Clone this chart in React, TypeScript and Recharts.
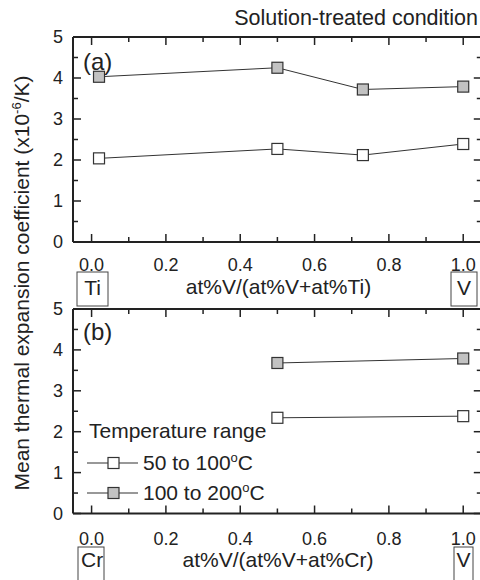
import { LineChart, Line, XAxis, YAxis, Legend } from 'recharts';

// composition fraction on the x axis, CTE (x10^-6/K) on the y axis
const tiFrac = [0.02, 0.5, 0.73, 1.0];
const tiLow = [2.04, 2.27, 2.12, 2.39];
const tiHigh = [4.03, 4.25, 3.72, 3.79];

const crFrac = [0.5, 1.0];
const crLow = [2.34, 2.38];
const crHigh = [3.68, 3.79];

const xTicks = [0, 0.1, 0.2, 0.3, 0.4, 0.5, 0.6, 0.7, 0.8, 0.9, 1.0];
const yTicks = [0, 0.5, 1, 1.5, 2, 2.5, 3, 3.5, 4, 4.5, 5];

const seriesOrder = ['low', 'high'];
const seriesNames = { low: '50 to 100°C', high: '100 to 200°C' };
const seriesFill: Record<string, string> = { low: '#ffffff', high: '#c2c2c2' };

const FONT = '"Liberation Sans", Arial, Helvetica, sans-serif';
const INK = '#222';

const tiRows = tiFrac.map((x, i) => ({ x, low: tiLow[i], high: tiHigh[i] }));
const crRows = crFrac.map((x, i) => ({ x, low: crLow[i], high: crHigh[i] }));

const tickLen = (major: boolean) => (major ? 8 : 5);

const makeBottomTick = (gap: number) => (props: any) => {
  const { x, y, payload } = props;
  const v = payload.value as number;
  const major = Math.round(v * 10) % 2 === 0;
  return (
    <g>
      <line x1={x} x2={x} y1={y} y2={y - tickLen(major)} stroke={INK} strokeWidth={1.5} />
      {major && (
        <text x={x} y={y + gap} dy="0.35em" textAnchor="middle" fontSize={18} fontFamily={FONT} fill={INK}>
          {v.toFixed(1)}
        </text>
      )}
    </g>
  );
};

const TopTick = (props: any) => {
  const { x, y, payload } = props;
  const major = Math.round(payload.value * 10) % 2 === 0;
  return <line x1={x} x2={x} y1={y} y2={y + tickLen(major)} stroke={INK} strokeWidth={1.5} />;
};

const LeftTick = (props: any) => {
  const { x, y, payload } = props;
  const v = payload.value as number;
  const major = Number.isInteger(v);
  return (
    <g>
      <line x1={x} x2={x + tickLen(major)} y1={y} y2={y} stroke={INK} strokeWidth={1.5} />
      {major && (
        <text x={x - 10} y={y} dy="0.35em" textAnchor="end" fontSize={18} fontFamily={FONT} fill={INK}>
          {v}
        </text>
      )}
    </g>
  );
};

const RightTick = (props: any) => {
  const { x, y, payload } = props;
  const major = Number.isInteger(payload.value);
  return <line x1={x} x2={x - tickLen(major)} y1={y} y2={y} stroke={INK} strokeWidth={1.5} />;
};

const squareDot = (fill: string) => (p: any) => (
  <rect
    key={`sq-${p.index}`}
    x={p.cx - 5.5}
    y={p.cy - 5.5}
    width={11}
    height={11}
    fill={fill}
    stroke="#333"
    strokeWidth={1.2}
  />
);

const Degree = ({ label }: { label: string }) => {
  const [head] = label.split('°');
  return (
    <>
      {head}
      <tspan dy={-8} fontSize={13}>o</tspan>
      <tspan dy={8}>C</tspan>
    </>
  );
};

const TemperatureLegend = ({ payload }: any) => {
  const items = [...(payload || [])].sort(
    (a: any, b: any) => seriesOrder.indexOf(a.dataKey) - seriesOrder.indexOf(b.dataKey)
  );
  return (
    <svg width={220} height={100} style={{ overflow: 'visible' }}>
      <text x={9} y={28} fontSize={21} fontFamily={FONT} fill={INK}>Temperature range</text>
      {items.map((entry: any, i: number) => {
        const cy = 53 + i * 30;
        return (
          <g key={entry.dataKey}>
            <line x1={7} x2={58} y1={cy} y2={cy} stroke="#333" strokeWidth={1.2} />
            <rect x={28} y={cy - 5.5} width={11} height={11} fill={seriesFill[entry.dataKey]} stroke="#333" strokeWidth={1.2} />
            <text x={63} y={cy + 7} fontSize={21} fontFamily={FONT} fill={INK}>
              <Degree label={entry.value} />
            </text>
          </g>
        );
      })}
    </svg>
  );
};

interface PanelProps {
  rows: { x: number; low: number; high: number }[];
  top: number;
  bottom: number;
  labelGap: number;
  legend?: boolean;
}

// axes get a 1px box so recharts still draws them; margins absorb that pixel
function Panel({ rows, top, bottom, labelGap, legend }: PanelProps) {
  return (
    <div style={{ position: 'absolute', left: 0, top: 0 }}>
      <LineChart
        width={500}
        height={580}
        data={rows}
        margin={{ top: top - 1, bottom: 580 - bottom - 1, left: 72, right: 17.2 }}
      >
        <XAxis
          xAxisId="b"
          dataKey="x"
          type="number"
          domain={[-0.05, 1.05]}
          allowDataOverflow
          ticks={xTicks}
          interval={0}
          height={1}
          tickSize={0}
          tickMargin={0}
          tickLine={false}
          axisLine={{ stroke: INK, strokeWidth: 2 }}
          tick={makeBottomTick(labelGap)}
        />
        <XAxis
          xAxisId="t"
          orientation="top"
          dataKey="x"
          type="number"
          domain={[-0.05, 1.05]}
          allowDataOverflow
          ticks={xTicks}
          interval={0}
          height={1}
          tickSize={0}
          tickMargin={0}
          tickLine={false}
          axisLine={{ stroke: INK, strokeWidth: 2 }}
          tick={TopTick}
        />
        <YAxis
          yAxisId="l"
          type="number"
          domain={[0, 5]}
          allowDataOverflow
          ticks={yTicks}
          interval={0}
          width={1}
          tickSize={0}
          tickMargin={0}
          tickLine={false}
          axisLine={{ stroke: INK, strokeWidth: 2 }}
          tick={LeftTick}
        />
        <YAxis
          yAxisId="r"
          orientation="right"
          type="number"
          domain={[0, 5]}
          allowDataOverflow
          ticks={yTicks}
          interval={0}
          width={1}
          tickSize={0}
          tickMargin={0}
          tickLine={false}
          axisLine={{ stroke: INK, strokeWidth: 2 }}
          tick={RightTick}
        />
        <Line
          xAxisId="b"
          yAxisId="l"
          type="linear"
          dataKey="low"
          name={seriesNames.low}
          stroke="#333"
          strokeWidth={1}
          dot={squareDot(seriesFill.low)}
          isAnimationActive={false}
        />
        <Line
          xAxisId="b"
          yAxisId="l"
          type="linear"
          dataKey="high"
          name={seriesNames.high}
          stroke="#333"
          strokeWidth={1}
          dot={squareDot(seriesFill.high)}
          isAnimationActive={false}
        />
        {legend && (
          <Legend
            layout="vertical"
            align="center"
            verticalAlign="middle"
            content={TemperatureLegend}
            wrapperStyle={{ left: 80, top: 410, width: 220, height: 100 }}
          />
        )}
      </LineChart>
    </div>
  );
}

const textStyle = { fontFamily: FONT, fill: INK };

export default function App() {
  return (
    <div
      style={{
        position: 'absolute',
        left: 0,
        top: 0,
        width: 480,
        height: 580,
        overflow: 'hidden',
        background: '#fff',
      }}
    >
      <Panel rows={tiRows} top={37} bottom={242} labelGap={23} />
      <Panel rows={crRows} top={309} bottom={513.5} labelGap={25} legend />

      <svg
        width={480}
        height={580}
        style={{ position: 'absolute', left: 0, top: 0, pointerEvents: 'none' }}
      >
        <text x={478} y={25} textAnchor="end" fontSize={21.5} {...textStyle}>
          Solution-treated condition
        </text>

        <text transform="translate(29 283) rotate(-90)" textAnchor="middle" fontSize={21} {...textStyle}>
          Mean thermal expansion coefficient (x10
          <tspan dy={-8} fontSize={13}>-6</tspan>
          <tspan dy={8}>/K)</tspan>
        </text>

        {/* panel (a): V–Ti */}
        <text x={83} y={70} fontSize={24} {...textStyle}>(a)</text>
        <rect x={77} y={272} width={31} height={34} fill="none" stroke="#444" strokeWidth={1} />
        <text x={92.5} y={295} textAnchor="middle" fontSize={21} {...textStyle}>Ti</text>
        <rect x={451} y={272} width={26} height={34} fill="none" stroke="#444" strokeWidth={1} />
        <text x={464} y={295} textAnchor="middle" fontSize={21} {...textStyle}>V</text>
        <text x={278.5} y={294} textAnchor="middle" fontSize={21} {...textStyle}>
          at%V/(at%V+at%Ti)
        </text>

        {/* panel (b): V–Cr */}
        <text x={83} y={340} fontSize={24} {...textStyle}>(b)</text>
        <rect x={78} y={547} width={26} height={40} fill="none" stroke="#444" strokeWidth={1} />
        <text x={81} y={567} fontSize={21} {...textStyle}>Cr</text>
        <rect x={454} y={547} width={19} height={40} fill="none" stroke="#444" strokeWidth={1} />
        <text x={463.5} y={567} textAnchor="middle" fontSize={21} {...textStyle}>V</text>
        <text x={278} y={567} textAnchor="middle" fontSize={21} {...textStyle}>
          at%V/(at%V+at%Cr)
        </text>
      </svg>
    </div>
  );
}
